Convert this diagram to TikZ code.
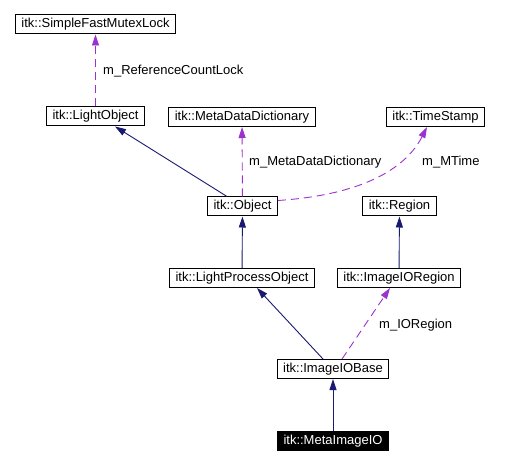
\documentclass[tikz,border=0pt]{standalone}
\usepackage{fontspec}
\setmainfont{Liberation Sans}
\usetikzlibrary{arrows.meta}

\definecolor{inhblue}{HTML}{191970}
\definecolor{usepurple}{HTML}{9A32CD}

\tikzset{
  cls/.style={draw, line width=1bp, minimum height=19bp, inner xsep=6bp, inner ysep=0pt,
    font=\fontsize{13bp}{15bp}\selectfont},
  clsdone/.style={cls, fill=black, text=white},
  lbl/.style={anchor=west, inner sep=0pt, font=\fontsize{13bp}{15bp}\selectfont},
  inherit/.style={draw=inhblue, line width=0.9bp, -{Triangle[length=11bp,width=7bp]}},
  member/.style={draw=usepurple, line width=0.9bp, dash pattern=on 8bp off 5bp,
    -{Triangle[length=11bp,width=7bp]}},
}

\begin{document}
\begin{tikzpicture}[x=1bp, y=-1bp]
        \useasboundingbox (0,0) rectangle (518,465);

        \node[cls] (sfml) at (95.5,24.5) {itk::SimpleFastMutexLock};
        \node[cls] (lobj) at (95.5,116.5) {itk::LightObject};
        \node[cls] (mdd) at (242,117) {itk::MetaDataDictionary};
        \node[cls] (tstamp) at (435.5,117) {itk::TimeStamp};
        \node[cls] (obj) at (242.5,206.5) {itk::Object};
        \node[cls] (rgn) at (399.5,206.5) {itk::Region};
        \node[cls] (lpo) at (242,278) {itk::LightProcessObject};
        \node[cls] (iorgn) at (399,278) {itk::ImageIORegion};
        \node[cls] (iob) at (333,369) {itk::ImageIOBase};
        \node[clsdone] (mio) at (333,441) {itk::MetaImageIO};

        % Inheritance.
        \draw[inherit] ([xshift=-15.5bp]obj.north) -- ([xshift=19.5bp]lobj.south);
        \draw[inherit] (lpo) -- (obj);
        \draw[inherit] (iorgn) -- (rgn);
        \draw[inherit] ([xshift=-10bp]iob.north) -- ([xshift=15bp]lpo.south);
        \draw[inherit] (mio) -- (iob);

        % Members.
        \draw[member] (lobj) -- (sfml);
        \node[lbl] (lrcl) at (103,71) {m\_ReferenceCountLock};
        \draw[member] (obj) -- (mdd);
        \node[lbl] (lmdd) at (249,162) {m\_MetaDataDictionary};
        \draw[member] ([yshift=6bp]obj.east) .. controls (360,195) and (405,170) .. ([xshift=-8.5bp]tstamp.south);
        \node[lbl] (lmt) at (422,162) {m\_MTime};
        \draw[member] ([xshift=9bp]iob.north) -- ([xshift=-9bp]iorgn.south);
        \node[lbl] (lior) at (379,325) {m\_IORegion};
    \end{tikzpicture}
\end{document}
